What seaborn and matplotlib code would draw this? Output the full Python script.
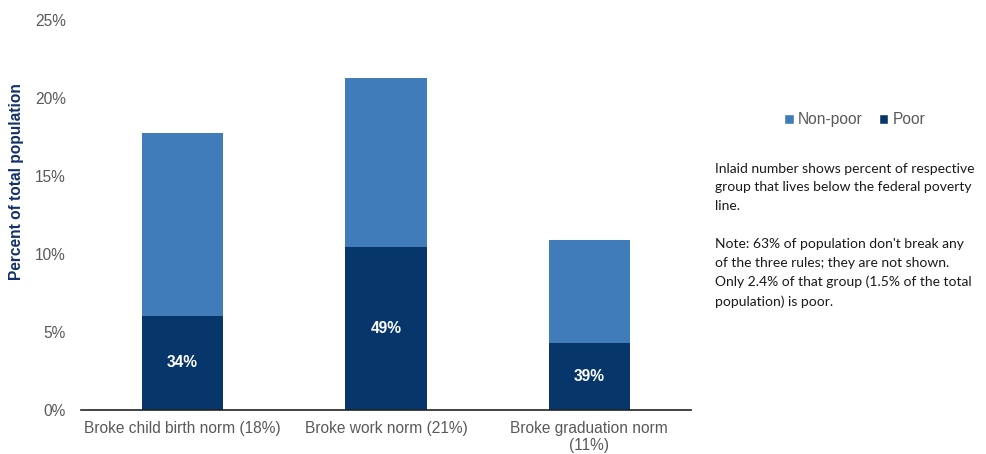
import matplotlib
matplotlib.use("Agg")
import matplotlib.pyplot as plt
from matplotlib.patches import Patch
from matplotlib.ticker import PercentFormatter
import seaborn as sns
import pandas as pd

# Share of the total population breaking each norm, split by poverty status
categories = ["Broke child birth norm (18%)", "Broke work norm (21%)", "Broke graduation norm\n(11%)"]
total_pct = [17.75, 21.28, 10.89]
poor_pct = [6.03, 10.43, 4.25]
poor_share_labels = ["34%", "49%", "39%"]
yticks = [0, 5, 10, 15, 20, 25]

NONPOOR = "#3F7CB9"
POOR = "#07376A"
GREY = "#595959"
FS = 11.2

sns.set_theme(style="white")
plt.rcParams["font.family"] = ["Liberation Sans", "DejaVu Sans"]

df = pd.DataFrame({"category": categories, "total": total_pct, "poor": poor_pct})

fig = plt.figure(figsize=(9.87, 4.54), dpi=100)
ax = fig.add_axes([0.082, 0.098, 0.618, 0.858])

sns.barplot(data=df, x="category", y="total", color=NONPOOR, width=0.4,
            saturation=1, linewidth=0, ax=ax)
sns.barplot(data=df, x="category", y="poor", color=POOR, width=0.4,
            saturation=1, linewidth=0, ax=ax)

for i, (p, lab) in enumerate(zip(poor_pct, poor_share_labels)):
    ax.text(i, p / 2, lab, ha="center", va="center", color="white",
            fontsize=FS, fontweight="bold")

ax.set_xlim(-0.5, 2.5)
ax.set_ylim(0, 25)
ax.set_yticks(yticks)
ax.yaxis.set_major_formatter(PercentFormatter(decimals=0))
ax.tick_params(axis="both", labelsize=FS, labelcolor=GREY, length=0)
ax.tick_params(axis="y", pad=11)
ax.tick_params(axis="x", pad=8)
ax.set_xlabel("")
ax.set_ylabel("Percent of total population", fontsize=FS, fontweight="bold",
              color="#13306B")
ax.yaxis.set_label_coords(-0.093, 0.585)

for side in ["top", "right", "left"]:
    ax.spines[side].set_visible(False)
ax.spines["bottom"].set_color("#222222")
ax.spines["bottom"].set_linewidth(1.2)

handles = [Patch(facecolor=NONPOOR, label="Non-poor"),
           Patch(facecolor=POOR, label="Poor")]
fig.legend(handles=handles, loc="center", bbox_to_anchor=(0.866, 0.736),
           ncol=2, frameon=False, fontsize=FS, labelcolor=GREY,
           handlelength=0.6, handleheight=0.6, handletextpad=0.3,
           columnspacing=1.0)

note = ("Inlaid number shows percent of respective\n"
        "group that lives below the federal poverty\n"
        "line.\n\n"
        "Note: 63% of population don't break any\n"
        "of the three rules; they are not shown.\n"
        "Only 2.4% of that group (1.5% of the total\n"
        "population) is poor.")
fig.text(0.724, 0.642, note, ha="left", va="top", fontsize=10,
         color="#1a1a1a", family=["Lato", "DejaVu Sans"], linespacing=1.68)

fig.savefig("out.png", dpi=100)
